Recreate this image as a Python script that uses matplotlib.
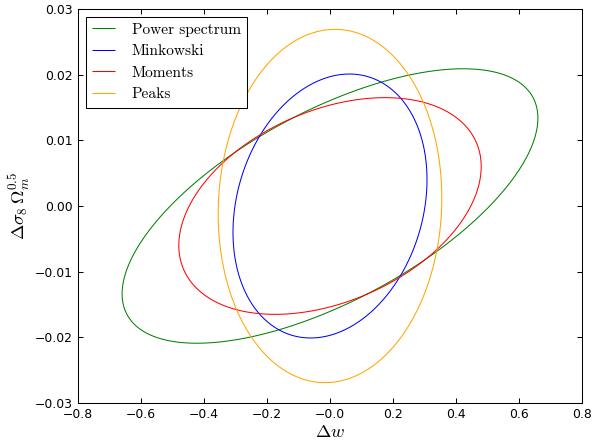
import numpy as np
import matplotlib
matplotlib.use("Agg")
import matplotlib.pyplot as plt

plt.rcParams["mathtext.fontset"] = "cm"

# Fisher ellipses: half-width in w, half-height in sigma8*Om^0.5, correlation
labels = ["Power spectrum", "Minkowski", "Moments", "Peaks"]
colors = ["green", "blue", "red", "orange"]
half_w = [0.66, 0.308, 0.48, 0.355]
half_s8 = [0.0209, 0.0201, 0.0165, 0.0269]
corr = [0.64, 0.20, 0.364, 0.045]

fig = plt.figure(figsize=(592 / 74, 442 / 74), dpi=74)
ax = fig.add_axes([78 / 592, 39 / 442, 504 / 592, 394 / 442])

t = np.linspace(0, 2 * np.pi, 400)
for lab, c, a, b, r in zip(labels, colors, half_w, half_s8, corr):
    x = a * np.cos(t)
    y = b * (r * np.cos(t) + np.sqrt(1 - r ** 2) * np.sin(t))
    ax.plot(x, y, color=c, lw=1.0, label=lab, solid_capstyle="butt")


def fmt(nd):
    return matplotlib.ticker.FuncFormatter(
        lambda v, p: f"{v:.{nd}f}".replace("-", "\u2212"))


ax.set_xlim(-0.8, 0.8)
ax.set_ylim(-0.03, 0.03)
ax.set_xticks(np.arange(-0.8, 0.81, 0.2))
ax.set_yticks(np.arange(-0.03, 0.031, 0.01))
ax.xaxis.set_major_formatter(fmt(1))
ax.yaxis.set_major_formatter(fmt(2))
ax.tick_params(direction="in", top=True, right=True, length=5, width=1,
               labelsize=12, pad=5)
for s in ax.spines.values():
    s.set_linewidth(1)

ax.set_xlabel(r"$\Delta w$", fontsize=18, labelpad=1)
ax.set_ylabel(r"$\Delta \sigma_8\, \Omega_m^{0.5}$", fontsize=18, labelpad=3)

leg = ax.legend(loc="upper left", prop={"family": "cmr10", "size": 15},
                fancybox=False, edgecolor="black", framealpha=1,
                handlelength=1.5, handletextpad=1.1, labelspacing=0.5,
                borderpad=0.4, borderaxespad=0.5)
leg.get_frame().set_linewidth(1)

fig.savefig("out.png", dpi=74)
